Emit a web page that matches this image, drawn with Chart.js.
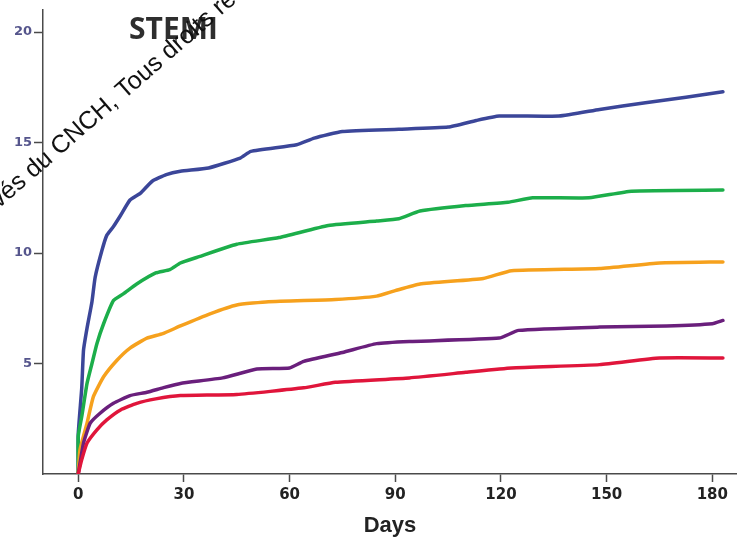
<!DOCTYPE html>
<html>
<head>
<meta charset="utf-8">
<script src="https://cdn.jsdelivr.net/npm/chart.js@4/dist/chart.umd.min.js"></script>
<style>
  html, body { margin: 0; padding: 0; background: #ffffff; }
  #wrap { width: 737px; height: 537px; position: relative; }
</style>
</head>
<body>
<div id="wrap"><canvas id="c" width="737" height="537"></canvas></div>
<script>
// ---- Data (days since admission, cumulative incidence %) ----
const chartTitle = "STEMI";
const xAxisTitle = "Days";
const xTicks = [0, 30, 60, 90, 120, 150, 180];
const yTicks = [5, 10, 15, 20];
const watermarkText = "Documents réservés du CNCH, Tous droits réservés";

const blueDays = [0, 0, 1, 1.5, 2.5, 3.9, 4.8, 6.7, 8.1, 10, 12, 14.7, 17.6, 21, 25, 29, 37, 46, 49, 62, 67, 75, 91, 105, 113, 119.5, 136.5, 148, 161, 172.5, 183];
const blueVals = [0, 1.8, 3.9, 5.6, 6.6, 7.8, 8.9, 10.1, 10.8, 11.2, 11.7, 12.4, 12.7, 13.25, 13.55, 13.7, 13.85, 14.3, 14.6, 14.9, 15.2, 15.5, 15.6, 15.7, 16.0, 16.2, 16.2, 16.5, 16.8, 17.05, 17.3];

const greenDays = [0, 0, 1, 2.5, 3.9, 5.3, 7.2, 10, 12.8, 16.6, 22, 26, 29, 33.6, 45, 57, 71, 84.7, 91, 97, 110, 122, 129, 145, 157, 183];
const greenVals = [0, 1.7, 2.6, 4.1, 5.0, 5.9, 6.8, 7.85, 8.15, 8.6, 9.1, 9.25, 9.55, 9.8, 10.4, 10.7, 11.25, 11.45, 11.55, 11.9, 12.15, 12.3, 12.5, 12.5, 12.8, 12.85];

const orangeDays = [0, 0.5, 2.5, 4.3, 7.2, 11, 14.7, 19.5, 24, 29, 37.4, 45, 54, 73, 84.7, 90, 97, 115, 123, 148, 165, 183];
const orangeVals = [0, 1.1, 2.3, 3.5, 4.4, 5.15, 5.7, 6.15, 6.35, 6.7, 7.25, 7.65, 7.8, 7.9, 8.05, 8.3, 8.6, 8.85, 9.2, 9.3, 9.55, 9.6];

const purpleDays = [0, 1.5, 3.4, 6.2, 10, 14.7, 19.5, 24, 29, 41, 50.7, 60, 64, 75, 84.7, 94, 119.5, 125, 148, 167, 180, 183];
const purpleVals = [0, 1.4, 2.3, 2.75, 3.2, 3.55, 3.7, 3.9, 4.1, 4.35, 4.75, 4.8, 5.1, 5.5, 5.9, 6.0, 6.15, 6.5, 6.65, 6.7, 6.8, 6.95];

const redDays = [0, 1, 2.5, 5.3, 8.1, 12, 16.6, 22, 29, 45, 64, 73, 94, 110, 123, 148, 165, 183];
const redVals = [0, 0.65, 1.4, 2.0, 2.45, 2.9, 3.2, 3.4, 3.55, 3.6, 3.9, 4.15, 4.35, 4.6, 4.8, 4.95, 5.25, 5.25];

function pts(days, vals) { return days.map((d, i) => ({ x: d, y: vals[i] })); }

function line(label, days, vals, color) {
  return {
    label: label,
    data: pts(days, vals),
    borderColor: color,
    backgroundColor: color,
    borderWidth: 3.5,
    pointRadius: 0,
    tension: 0.15,
    borderJoinStyle: 'round',
    borderCapStyle: 'round',
    fill: false
  };
}

const textPlugin = {
  id: 'texts',
  afterDraw(chart) {
    const ctx = chart.ctx;
    ctx.save();
    ctx.fillStyle = '#2e2e2e';
    ctx.font = 'bold 30px "Open Sans", sans-serif';
    ctx.textAlign = 'left';
    ctx.textBaseline = 'alphabetic';
    ctx.fillText(chartTitle, 129, 39);
    ctx.restore();

    // rotated copyright text
    ctx.save();
    ctx.translate(33, 179);
    ctx.rotate(-41 * Math.PI / 180);
    ctx.fillStyle = '#111111';
    ctx.font = '25px "Liberation Sans", Arial, sans-serif';
    ctx.textBaseline = 'alphabetic';
    const idx = watermarkText.indexOf('du CNCH');
    const before = watermarkText.slice(0, idx);
    const after = watermarkText.slice(idx);
    ctx.textAlign = 'right';
    ctx.fillText(before, 0, 0);
    ctx.textAlign = 'left';
    ctx.fillText(after, 0, 0);
    ctx.restore();
  }
};

const axisColor = '#4a4a4a';

new Chart(document.getElementById('c'), {
  type: 'line',
  data: {
    datasets: [
      line('Red', redDays, redVals, '#e0153b'),
      line('Purple', purpleDays, purpleVals, '#6a1f7c'),
      line('Orange', orangeDays, orangeVals, '#f6a11d'),
      line('Green', greenDays, greenVals, '#1cae4a'),
      line('Blue', blueDays, blueVals, '#3b4699')
    ]
  },
  options: {
    responsive: false,
    animation: false,
    devicePixelRatio: 1,
    layout: { padding: { top: 10, left: 0, right: 0, bottom: 0 } },
    plugins: {
      legend: { display: false },
      tooltip: { enabled: false },
      title: { display: false }
    },
    scales: {
      x: {
        type: 'linear',
        min: -10,
        max: 187,
        afterBuildTicks: s => { s.ticks = xTicks.map(v => ({ value: v })); },
        afterFit: s => { s.height = 63; },
        grid: { drawOnChartArea: false, drawTicks: true, tickLength: 8, tickColor: axisColor, tickWidth: 1.5 },
        border: { display: true, color: axisColor, width: 1.5 },
        ticks: {
          color: '#222222',
          font: { family: '"DejaVu Sans", sans-serif', weight: 'bold', size: 15 },
          padding: 4,
          maxRotation: 0,
          autoSkip: false
        },
        title: {
          display: true,
          text: xAxisTitle,
          color: '#222222',
          font: { family: '"Liberation Sans", Arial, sans-serif', weight: 'bold', size: 22, lineHeight: 1.0 },
          padding: { top: 0, bottom: 0 }
        }
      },
      y: {
        type: 'linear',
        min: 0,
        max: 21,
        afterBuildTicks: s => { s.ticks = yTicks.map(v => ({ value: v })); },
        afterFit: s => { s.width = 43; },
        grid: { drawOnChartArea: false, drawTicks: true, tickLength: 9, tickColor: axisColor, tickWidth: 1.5 },
        border: { display: true, color: axisColor, width: 1.5 },
        ticks: {
          color: '#55558c',
          font: { family: '"DejaVu Sans", sans-serif', weight: 'bold', size: 13 },
          padding: 2
        }
      }
    }
  },
  plugins: [textPlugin]
});
</script>
</body>
</html>
